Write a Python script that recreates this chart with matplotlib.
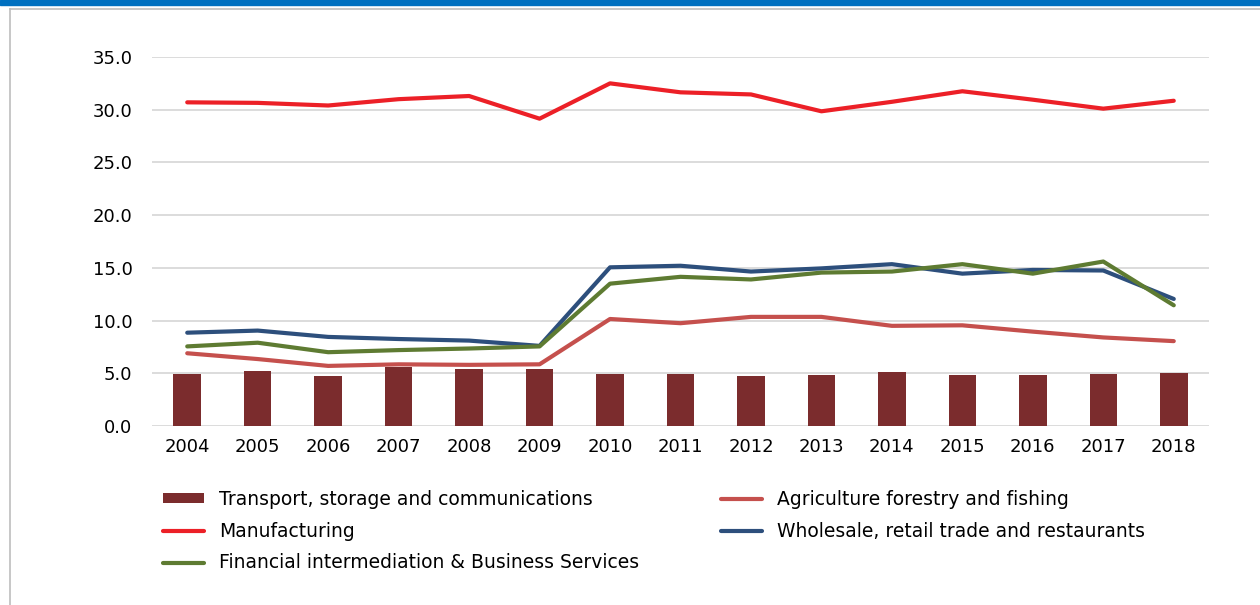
import numpy as np
import matplotlib
matplotlib.use("Agg")
import matplotlib.pyplot as plt
from matplotlib.lines import Line2D
from matplotlib.patches import Patch

plt.rcParams['font.family'] = ['DejaVu Sans']

# ---- data ----
years = ['2004', '2005', '2006', '2007', '2008', '2009', '2010', '2011',
         '2012', '2013', '2014', '2015', '2016', '2017', '2018']
transport = [4.95, 5.2, 4.75, 5.55, 5.4, 5.4, 4.95, 4.95,
             4.75, 4.85, 5.1, 4.85, 4.85, 4.95, 5.05]
manufacturing = [30.7, 30.65, 30.4, 31.0, 31.3, 29.15, 32.5, 31.65,
                 31.45, 29.85, 30.75, 31.75, 30.95, 30.1, 30.85]
agriculture = [6.9, 6.35, 5.7, 5.85, 5.8, 5.85, 10.15, 9.75,
               10.35, 10.35, 9.5, 9.55, 8.95, 8.4, 8.05]
wholesale = [8.85, 9.05, 8.45, 8.25, 8.1, 7.6, 15.05, 15.2,
             14.65, 14.95, 15.35, 14.45, 14.8, 14.75, 12.05]
financial = [7.55, 7.9, 7.0, 7.2, 7.35, 7.55, 13.5, 14.15,
             13.9, 14.55, 14.65, 15.35, 14.45, 15.6, 11.45]
yticks = [0, 5, 10, 15, 20, 25, 30, 35]

# colours
c_bar = '#7B2C2D'
c_manu = '#EC2027'
c_agri = '#C5504D'
c_whole = '#2D4F7C'
c_fin = '#5E7B32'

W, H = 1260, 605
fig = plt.figure(figsize=(W / 100, H / 100), dpi=100)

# frame decorations: blue band on top, thin grey box lines
fig.patches.append(plt.Rectangle((0, 1 - 5 / H), 1, 5 / H, transform=fig.transFigure,
                                 color='#0070C0', zorder=0))
fig.lines.append(Line2D([10 / W, 1], [1 - 8.5 / H, 1 - 8.5 / H], transform=fig.transFigure,
                        color='#BDBDBD', lw=1.2))
fig.lines.append(Line2D([10 / W, 10 / W], [0, 1 - 8.5 / H], transform=fig.transFigure,
                        color='#BDBDBD', lw=1.2))

# axes: x 152..1209 px, y 57..426 px
ax = fig.add_axes([152 / W, 1 - 426 / H, (1209 - 152) / W, (426 - 57) / H])
x = np.arange(len(years))

ax.bar(x, transport, width=0.39, color=c_bar, zorder=2)
lw = 3.0
ax.plot(x, manufacturing, color=c_manu, lw=lw, solid_capstyle='round', zorder=3)
ax.plot(x, agriculture, color=c_agri, lw=lw, solid_capstyle='round', zorder=3)
ax.plot(x, wholesale, color=c_whole, lw=lw, solid_capstyle='round', zorder=3)
ax.plot(x, financial, color=c_fin, lw=lw, solid_capstyle='round', zorder=4)

ax.set_xlim(-0.5, len(years) - 0.5)
ax.set_ylim(0, 35)
ax.set_yticks(yticks)
ax.set_yticklabels([f'{v:.1f}' for v in yticks])
ax.set_xticks(x)
ax.set_xticklabels(years)
ax.yaxis.grid(True, color='#D9D9D9', lw=1.3, zorder=0)
ax.set_axisbelow(True)
for s in ax.spines.values():
    s.set_visible(False)
ax.tick_params(axis='both', length=0, labelsize=13, colors='black')
ax.tick_params(axis='y', pad=14)
ax.tick_params(axis='x', pad=9)

# legend, two blocks placed by hand
h_bar = Patch(facecolor=c_bar, edgecolor='none')
h_manu = Line2D([], [], color=c_manu, lw=lw, solid_capstyle='round')
h_fin = Line2D([], [], color=c_fin, lw=lw, solid_capstyle='round')
h_agri = Line2D([], [], color=c_agri, lw=lw, solid_capstyle='round')
h_whole = Line2D([], [], color=c_whole, lw=lw, solid_capstyle='round')

leg_kw = dict(frameon=False, fontsize=13.5, handlelength=2.2, handleheight=0.45,
              handletextpad=0.8, labelspacing=0.68, loc='upper left',
              borderaxespad=0, borderpad=0)
leg1 = fig.legend([h_bar, h_manu, h_fin],
                  ['Transport, storage and communications', 'Manufacturing',
                   'Financial intermediation & Business Services'],
                  bbox_to_anchor=(163 / W, 1 - 490 / H), **leg_kw)
leg2 = fig.legend([h_agri, h_whole],
                  ['Agriculture forestry and fishing', 'Wholesale, retail trade and restaurants'],
                  bbox_to_anchor=(721 / W, 1 - 490 / H), **leg_kw)

fig.savefig('out.png', dpi=100)
